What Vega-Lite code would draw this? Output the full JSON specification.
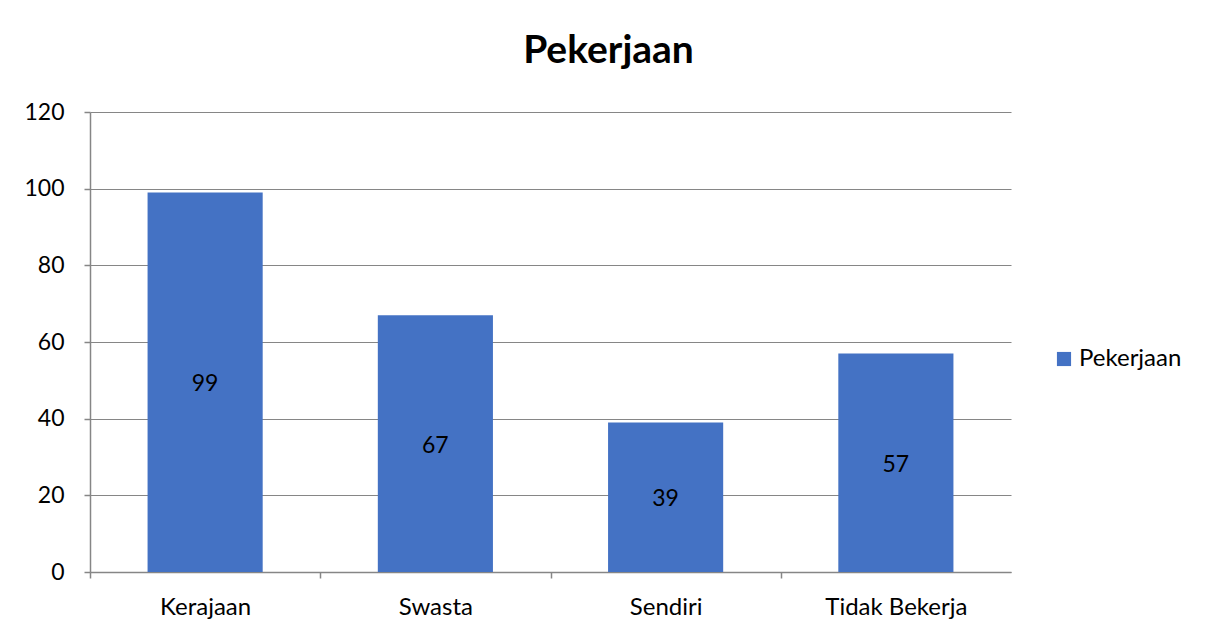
{
  "$schema": "https://vega.github.io/schema/vega-lite/v6.json",
  "autosize": "none",
  "width": 921,
  "height": 460,
  "padding": {"left": 90, "top": 112, "right": 194, "bottom": 63},
  "background": "white",
  "config": {
    "font": "Lato",
    "view": {"stroke": null}
  },
  "title": {
    "text": "Pekerjaan",
    "font": "Lato",
    "fontSize": 39,
    "fontWeight": "bold",
    "color": "#000000",
    "anchor": "middle",
    "dx": 58,
    "offset": 30
  },
  "data": {
    "values": [
      {"kategori": "Kerajaan", "jumlah": 99, "seri": "Pekerjaan"},
      {"kategori": "Swasta", "jumlah": 67, "seri": "Pekerjaan"},
      {"kategori": "Sendiri", "jumlah": 39, "seri": "Pekerjaan"},
      {"kategori": "Tidak Bekerja", "jumlah": 57, "seri": "Pekerjaan"}
    ]
  },
  "encoding": {
    "x": {
      "field": "kategori",
      "type": "nominal",
      "sort": null,
      "scale": {"paddingInner": 0.5, "paddingOuter": 0.25},
      "axis": {
        "title": null,
        "labelAngle": 0,
        "labelFont": "Lato",
        "labelFontSize": 24,
        "labelColor": "#000000",
        "labelPadding": 17,
        "tickOffset": -115.125,
        "labelOffset": 115.125,
        "tickSize": 6,
        "tickColor": "#868686",
        "domainColor": "#868686",
        "domainWidth": 1.5,
        "tickWidth": 1.5
      }
    }
  },
  "layer": [
    {
      "mark": {"type": "bar", "color": "#4472C4"},
      "encoding": {
        "y": {
          "field": "jumlah",
          "type": "quantitative",
          "scale": {"domain": [0, 120], "nice": false},
          "axis": {
            "title": null,
            "values": [0, 20, 40, 60, 80, 100, 120],
            "labelFont": "Lato",
            "labelFontSize": 23,
            "labelColor": "#000000",
            "labelPadding": 20,
            "tickSize": 6,
            "tickColor": "#868686",
            "tickWidth": 1.5,
            "domain": true,
            "domainColor": "#868686",
            "domainWidth": 1.5,
            "grid": true,
            "gridColor": "#868686",
            "gridWidth": 1.2
          }
        },
        "fill": {
          "field": "seri",
          "type": "nominal",
          "scale": {"range": ["#4472C4"]},
          "legend": {
            "title": null,
            "orient": "none",
            "legendX": 962,
            "legendY": 235,
            "symbolType": "square",
            "symbolSize": 200,
            "symbolStrokeWidth": 0,
            "labelFont": "Lato",
            "labelFontSize": 24,
            "labelColor": "#000000",
            "labelOffset": 3
          }
        }
      }
    },
    {
      "mark": {"type": "text", "fontSize": 23, "font": "Lato", "color": "#000000", "baseline": "middle", "dy": 2},
      "encoding": {
        "y": {
          "field": "jumlah",
          "type": "quantitative",
          "scale": {"domain": [0, 240], "nice": false},
          "axis": null
        },
        "text": {"field": "jumlah", "type": "quantitative"}
      }
    }
  ],
  "resolve": {"scale": {"y": "independent"}}
}
